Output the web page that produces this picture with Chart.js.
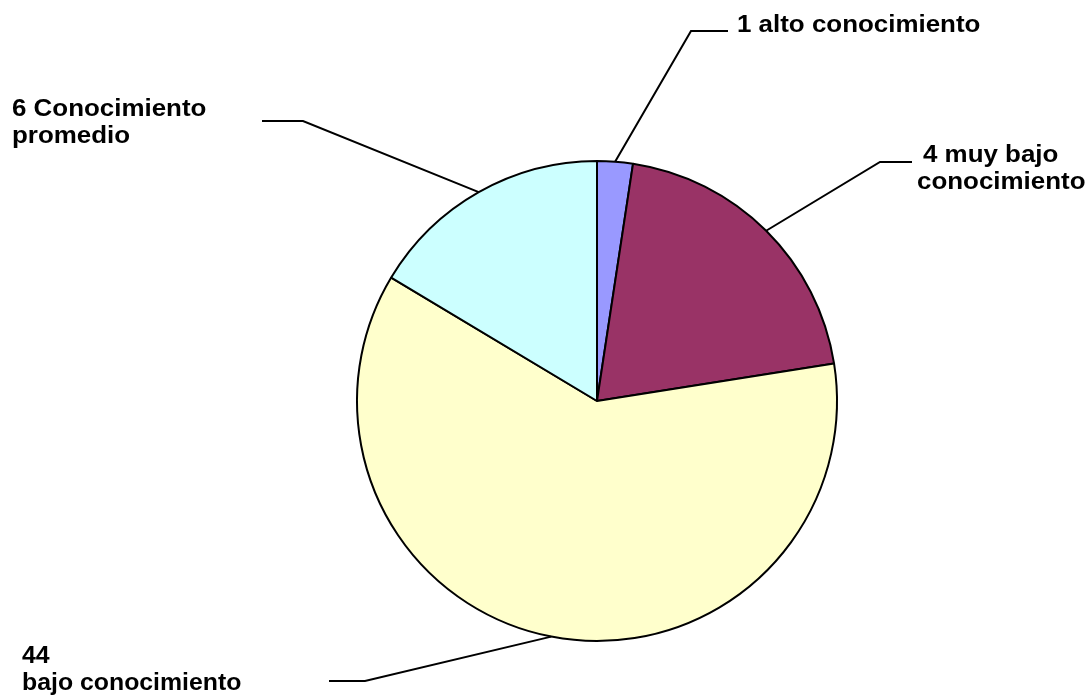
<!DOCTYPE html>
<html>
<head>
<meta charset="utf-8">
<script src="https://cdn.jsdelivr.net/npm/chart.js@4"></script>
<style>
  html, body { margin: 0; padding: 0; background: #fff; }
  #wrap { width: 1091px; height: 697px; position: relative; }
</style>
</head>
<body>
<div id="wrap"><canvas id="pieChart" width="1091" height="697"></canvas></div>
<script>
// Chart data (slice shares, clockwise from 12 o'clock)
const categories = ['1 alto conocimiento', '4 muy bajo conocimiento', '44 bajo conocimiento', '6 Conocimiento promedio'];
const labelLines = [['1 alto conocimiento'], ['4 muy bajo', 'conocimiento'], ['44', 'bajo conocimiento'], ['6 Conocimiento', 'promedio']];
const values = [2.4, 20.1, 61.1, 16.4];
const colors = ['#9999FF', '#993366', '#FFFFCC', '#CCFFFF'];

// Label placement: text anchor, leader elbow and leader end for each slice
const labelLayout = [
  { x: 737, y: 32, elbow: [691, 31], end: [728, 31], size: 24, lineX: [0] },
  { x: 920, y: 162, elbow: [880, 162], end: [912, 162], size: 24, lineX: [3, -3] },
  { x: 22, y: 663, elbow: [365, 681], end: [329, 681], size: 23, lineX: [0, 0] },
  { x: 12, y: 116, elbow: [303, 121], end: [262, 121], size: 24, lineX: [0, 0] }
];

const leaderLabels = {
  id: 'leaderLabels',
  afterDraw(chart) {
    const ctx = chart.ctx;
    const arcs = chart.getDatasetMeta(0).data;
    ctx.save();
    arcs.forEach((arc, i) => {
      const lay = labelLayout[i];
      const p = arc.getProps(['x', 'y', 'startAngle', 'endAngle', 'outerRadius'], true);
      const mid = (p.startAngle + p.endAngle) / 2;
      const sx = p.x + Math.cos(mid) * p.outerRadius;
      const sy = p.y + Math.sin(mid) * p.outerRadius;
      ctx.strokeStyle = '#000';
      ctx.lineWidth = 2;
      ctx.beginPath();
      ctx.moveTo(sx, sy);
      ctx.lineTo(lay.elbow[0], lay.elbow[1]);
      ctx.lineTo(lay.end[0], lay.end[1]);
      ctx.stroke();

      ctx.fillStyle = '#000';
      ctx.font = 'bold ' + lay.size + 'px "Liberation Sans", Arial, sans-serif';
      ctx.textBaseline = 'alphabetic';
      ctx.textAlign = 'left';
      labelLines[i].forEach((line, j) => {
        ctx.save();
        ctx.translate(lay.x + (lay.lineX[j] || 0), lay.y + j * 27);
        ctx.scale(1.08, 1);
        ctx.fillText(line, 0, 0);
        ctx.restore();
      });
    });
    ctx.restore();
  }
};

const ctx = document.getElementById('pieChart').getContext('2d');
new Chart(ctx, {
  type: 'pie',
  data: {
    labels: categories,
    datasets: [{
      data: values,
      backgroundColor: colors,
      borderColor: '#000',
      borderWidth: 2,
      radius: 240
    }]
  },
  options: {
    responsive: false,
    animation: false,
    events: [],
    layout: { padding: { left: 103, right: 0, top: 105, bottom: 0 } },
    plugins: {
      legend: { display: false },
      tooltip: { enabled: false }
    }
  },
  plugins: [leaderLabels]
});
</script>
</body>
</html>
